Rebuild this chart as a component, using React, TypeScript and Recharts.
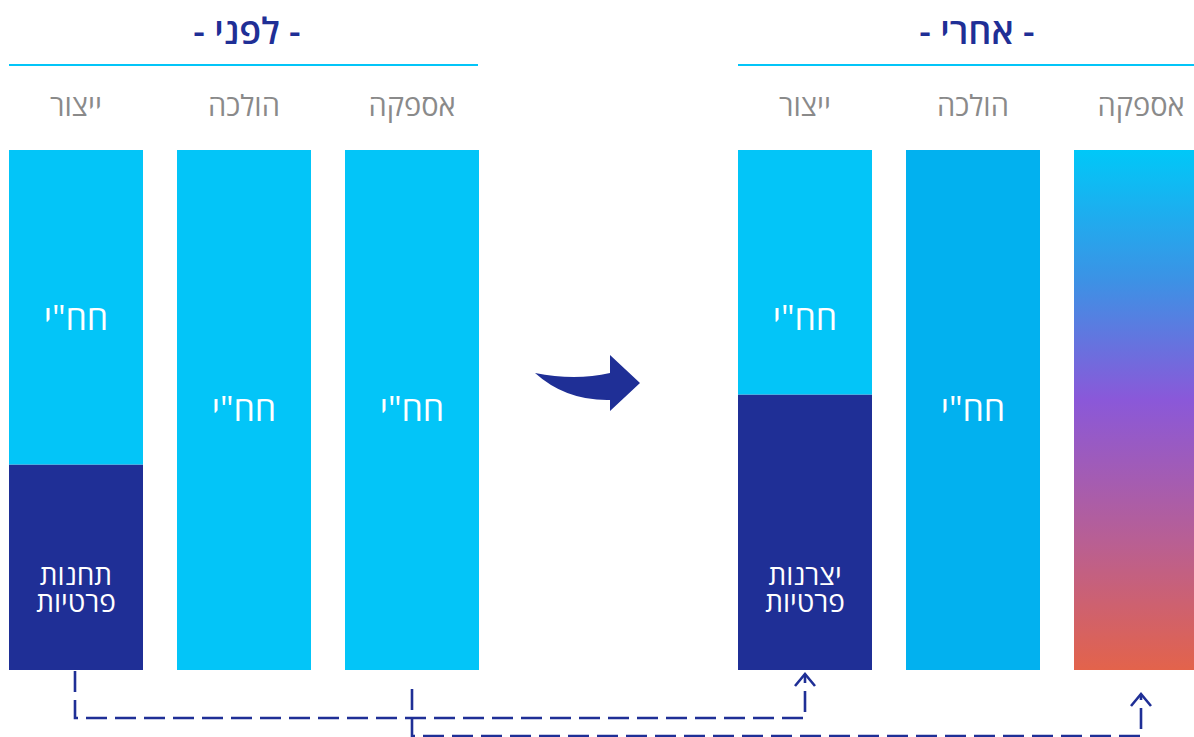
import React from "react";
import { BarChart, Bar, XAxis, YAxis, Cell, LabelList } from "recharts";

const categories = ["ייצור", "הולכה", "אספקה"];

// share of each segment, in percent of the full bar
const beforeIec = [60.5, 100, 100];
const beforePrivate = [39.5, 0, 0];
const afterIec = [47, 100, 0];
const afterPrivate = [53, 0, 0];
const afterOpen = [0, 0, 100];

const iecLabel = 'חח"י';
const beforePrivateLabel = ["תחנות", "פרטיות"];
const afterPrivateLabel = ["יצרנות", "פרטיות"];

const beforeIecColors = ["#03C5F8", "#03C5F8", "#03C5F8"];
const afterIecColors = ["#03C5F8", "#02B1EF", "#03C5F8"];

const NAVY = "#1F2F96";
const CYAN = "#03C5F8";
const FONT = "'Open Sans', 'DejaVu Sans', sans-serif";

const beforeData = categories.map((name, i) => ({
  name,
  iec: beforeIec[i],
  priv: beforePrivate[i],
}));

const afterData = categories.map((name, i) => ({
  name,
  iec: afterIec[i],
  priv: afterPrivate[i],
  open: afterOpen[i],
}));

function CategoryTick({ x, y, payload }: any) {
  return (
    <text x={x} y={y} dy={-26} textAnchor="middle" fill="#8A8A8A" fontSize={29} fontFamily={FONT}>
      {payload.value}
    </text>
  );
}

function IecLabel(props: any) {
  const { x, y, width, height, value } = props;
  if (!value) return null;
  // stacked segments keep the label near the top, full bars centre it
  const mid = height > 400 ? height / 2 - 2 : 167;
  return (
    <text
      x={x + width / 2}
      y={y + mid}
      textAnchor="middle"
      dominantBaseline="central"
      fill="#fff"
      fontSize={34}
      fontFamily={FONT}
    >
      {iecLabel}
    </text>
  );
}

function privateLabel(lines: string[]) {
  return (props: any) => {
    const { x, y, width, height, value } = props;
    if (!value) return null;
    const cx = x + width / 2;
    const cy = y + height - 83;
    return (
      <g fill="#fff" fontSize={28} fontFamily={FONT}>
        <text x={cx} y={cy - 13} textAnchor="middle" dominantBaseline="central">{lines[0]}</text>
        <text x={cx} y={cy + 14} textAnchor="middle" dominantBaseline="central">{lines[1]}</text>
      </g>
    );
  };
}

const chartMargin = { top: 60, right: 0, bottom: 67, left: 0 };

function BeforeChart() {
  return (
    <BarChart width={504} height={737} data={beforeData} margin={chartMargin} barSize={134}>
      <XAxis dataKey="name" orientation="top" height={90} axisLine={false} tickLine={false} tick={<CategoryTick />} interval={0} />
      <YAxis hide domain={[0, 100]} />
      <Bar dataKey="priv" stackId="s" fill={NAVY} isAnimationActive={false}>
        <LabelList dataKey="priv" content={privateLabel(beforePrivateLabel)} />
      </Bar>
      <Bar dataKey="iec" stackId="s" isAnimationActive={false}>
        {beforeData.map((d, i) => (
          <Cell key={d.name} fill={beforeIecColors[i]} />
        ))}
        <LabelList dataKey="iec" content={<IecLabel />} />
      </Bar>
    </BarChart>
  );
}

function AfterChart() {
  return (
    <BarChart width={504} height={737} data={afterData} margin={chartMargin} barSize={134}>
      <defs>
        <linearGradient id="openGrad" x1="0" y1="0" x2="0" y2="1">
          <stop offset="0%" stopColor="#00C8F8" />
          <stop offset="25%" stopColor="#3C92E5" />
          <stop offset="48%" stopColor="#8A58D9" />
          <stop offset="75%" stopColor="#B85F94" />
          <stop offset="100%" stopColor="#E3634B" />
        </linearGradient>
      </defs>
      <XAxis dataKey="name" orientation="top" height={90} axisLine={false} tickLine={false} tick={<CategoryTick />} interval={0} />
      <YAxis hide domain={[0, 100]} />
      <Bar dataKey="priv" stackId="s" fill={NAVY} isAnimationActive={false}>
        <LabelList dataKey="priv" content={privateLabel(afterPrivateLabel)} />
      </Bar>
      <Bar dataKey="iec" stackId="s" isAnimationActive={false}>
        {afterData.map((d, i) => (
          <Cell key={d.name} fill={afterIecColors[i]} />
        ))}
        <LabelList dataKey="iec" content={<IecLabel />} />
      </Bar>
      <Bar dataKey="open" stackId="s" fill="url(#openGrad)" isAnimationActive={false} />
    </BarChart>
  );
}

// headings, the centre arrow and the dashed connectors
function Overlay() {
  const dash = { stroke: NAVY, strokeWidth: 2.6, strokeDasharray: "21 8", fill: "none" };
  const head = { stroke: NAVY, strokeWidth: 2.6, fill: "none" };
  return (
    <svg width={1194} height={737} style={{ position: "absolute", left: 0, top: 0, pointerEvents: "none" }}>
      <text x={247} y={30} textAnchor="middle" dominantBaseline="central" fill={NAVY} fontSize={36} fontWeight={600} fontFamily={FONT}>
        - לפני -
      </text>
      <text x={977} y={30} textAnchor="middle" dominantBaseline="central" fill={NAVY} fontSize={36} fontWeight={600} fontFamily={FONT}>
        - אחרי -
      </text>
      <line x1={9} x2={478} y1={65} y2={65} stroke={CYAN} strokeWidth={2} />
      <line x1={738} x2={1194} y1={65} y2={65} stroke={CYAN} strokeWidth={2} />

      <path d="M535,373 Q575,381 610,373 L610,355 L640,383 L610,411 L610,400 Q566,401 535,373 Z" fill={NAVY} />

      <path d="M75,671 L75,718 L805,718 L805,674" {...dash} />
      <path d="M795,686 L805,674 L815,686" {...head} />
      <path d="M412,689 L412,736 L1141,736 L1141,694" {...dash} />
      <path d="M1131,706 L1141,694 L1151,706" {...head} />
    </svg>
  );
}

export default function App() {
  return (
    <div
      style={{
        position: "absolute",
        left: 0,
        top: 0,
        width: 1194,
        height: 737,
        overflow: "hidden",
        background: "#fff",
      }}
    >
      <div style={{ position: "absolute", left: -8, top: 0 }}>
        <BeforeChart />
      </div>
      <div style={{ position: "absolute", left: 721, top: 0 }}>
        <AfterChart />
      </div>
      <Overlay />
    </div>
  );
}
